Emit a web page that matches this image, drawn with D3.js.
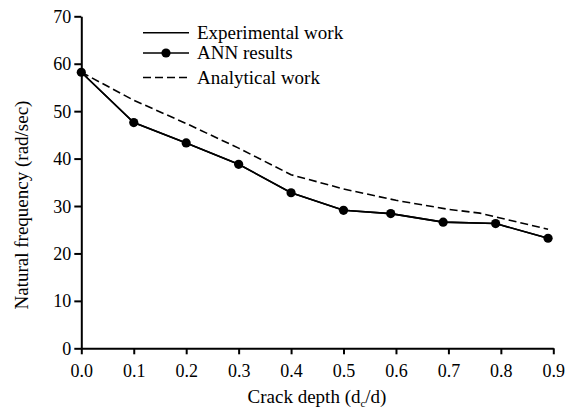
<!DOCTYPE html>
<html>
<head>
<meta charset="utf-8">
<script src="https://cdn.jsdelivr.net/npm/d3@7"></script>
<style>
  html, body { margin: 0; padding: 0; background: #fff; }
  svg { display: block; }
</style>
</head>
<body>
<svg id="chart" width="568" height="413"></svg>
<script>
// Crack depth ratios and natural frequencies (rad/sec)
const annDepth = [0.0, 0.1, 0.2, 0.3, 0.4, 0.5, 0.59, 0.69, 0.79, 0.89];
const annFreq = [58.2, 47.6, 43.3, 38.8, 32.8, 29.1, 28.4, 26.6, 26.3, 23.2];
const expDepth = [0.0, 0.1, 0.2, 0.3, 0.4, 0.5, 0.59, 0.69, 0.79, 0.89];
const expFreq = [58.2, 47.6, 43.3, 38.8, 32.8, 29.1, 28.4, 26.6, 26.3, 23.2];
const anaDepth = [0.0, 0.1, 0.2, 0.3, 0.4, 0.5, 0.6, 0.7, 0.76, 0.89];
const anaFreq = [58.2, 52.3, 47.4, 42.2, 36.6, 33.6, 31.2, 29.3, 28.5, 25.1];
const xTicks = [0, 0.1, 0.2, 0.3, 0.4, 0.5, 0.6, 0.7, 0.8, 0.9];
const yTicks = [0, 10, 20, 30, 40, 50, 60, 70];
const legendLabels = ["Experimental work", "ANN results", "Analytical work"];

const FONT = "Liberation Serif";

const svg = d3.select("#chart").attr("font-family", FONT);
const x = d3.scaleLinear().domain([0, 0.9]).range([81.3, 553.3]);
const y = d3.scaleLinear().domain([0, 70]).range([348.3, 16.3]);

// Axes
const xAxis = d3.axisBottom(x).tickValues(xTicks).tickFormat(d3.format(".1f")).tickSize(6).tickSizeOuter(0);
const yAxis = d3.axisLeft(y).tickValues(yTicks).tickFormat(d3.format("d")).tickSize(7).tickSizeOuter(0);

const gx = svg.append("g").attr("transform", `translate(0,${y(0)})`).call(xAxis);
const gy = svg.append("g").attr("transform", `translate(${x(0)},0)`).call(yAxis);

[gx, gy].forEach(g => {
  g.attr("font-family", FONT).attr("font-size", 18);
  g.select(".domain").attr("stroke", "#000").attr("stroke-width", 2);
  g.selectAll(".tick line").attr("stroke", "#000").attr("stroke-width", 2);
  g.selectAll(".tick text").attr("fill", "#000");
});
gx.selectAll(".tick text").attr("dy", "0").attr("y", 29);
gy.selectAll(".tick text").attr("x", -10).attr("dy", "0.34em");

// Axis titles
svg.append("text")
  .attr("x", 317).attr("y", 403)
  .attr("text-anchor", "middle")
  .attr("font-family", FONT).attr("font-size", 19)
  .html('Crack depth (d<tspan dy="4" font-size="11">c</tspan><tspan dy="-4">/d)</tspan>');

svg.append("text")
  .attr("transform", "translate(28,205) rotate(-90)")
  .attr("text-anchor", "middle")
  .attr("font-family", FONT).attr("font-size", 19)
  .text("Natural frequency (rad/sec)");

// Series lines
const line = d3.line().x(d => x(d[0])).y(d => y(d[1]));
const anaData = d3.zip(anaDepth, anaFreq);
const expData = d3.zip(expDepth, expFreq);
const annData = d3.zip(annDepth, annFreq);

svg.append("path").datum(anaData).attr("d", line)
  .attr("fill", "none").attr("stroke", "#000").attr("stroke-width", 1.6)
  .attr("stroke-dasharray", "8,4");
svg.append("path").datum(expData).attr("d", line)
  .attr("fill", "none").attr("stroke", "#000").attr("stroke-width", 1.6);
svg.append("path").datum(annData).attr("d", line)
  .attr("fill", "none").attr("stroke", "#000").attr("stroke-width", 1.6);
svg.append("g").selectAll("circle").data(annData).join("circle")
  .attr("cx", d => x(d[0])).attr("cy", d => y(d[1])).attr("r", 4.6)
  .attr("fill", "#000");

// Legend
const legendY = [32.7, 53, 77.5];
const lg = svg.append("g");
legendLabels.forEach((label, i) => {
  const ln = lg.append("line")
    .attr("x1", 143).attr("x2", 189)
    .attr("y1", legendY[i]).attr("y2", legendY[i])
    .attr("stroke", "#000").attr("stroke-width", 1.6);
  if (i === 2) ln.attr("stroke-dasharray", "8,4");
  if (i === 1) lg.append("circle").attr("cx", 166).attr("cy", legendY[i]).attr("r", 4.6).attr("fill", "#000");
  lg.append("text")
    .attr("x", 197).attr("y", legendY[i] + 6)
    .attr("font-family", FONT).attr("font-size", 19)
    .text(label);
});
</script>
</body>
</html>
